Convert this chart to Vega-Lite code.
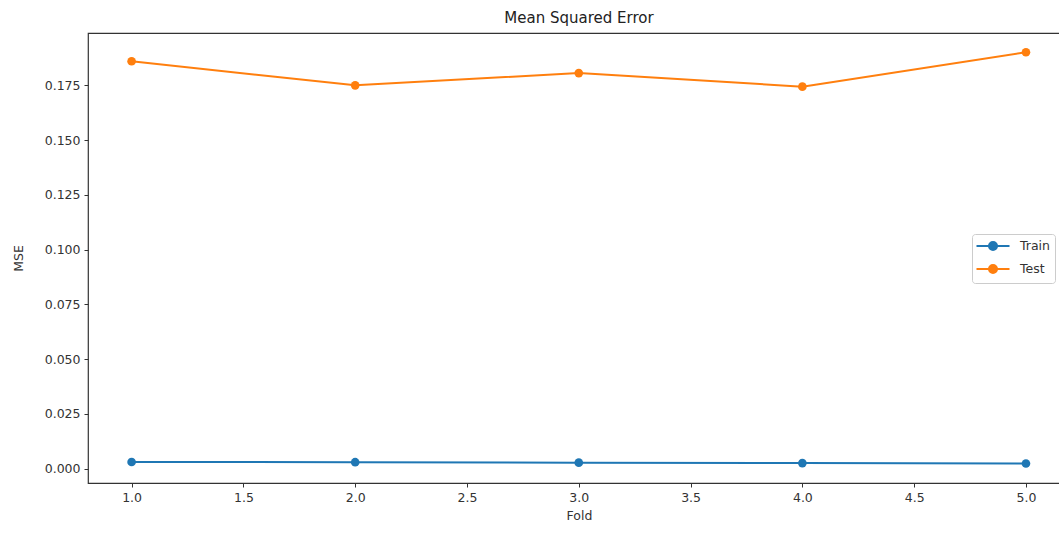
{
  "$schema": "https://vega.github.io/schema/vega-lite/v6.json",
  "autosize": {"type": "none"},
  "padding": {"left": 88, "top": 33, "right": 0, "bottom": 50},
  "width": 982,
  "height": 450,
  "background": "white",
  "title": {
    "text": "Mean Squared Error",
    "font": "DejaVu Sans",
    "fontSize": 15,
    "fontWeight": "normal",
    "color": "#222",
    "anchor": "middle",
    "offset": 7
  },
  "config": {
    "view": {"stroke": "#333", "strokeWidth": 1.2},
    "axis": {
      "domain": false,
      "grid": false,
      "ticks": true,
      "tickColor": "#333",
      "tickSize": 4,
      "labelFont": "DejaVu Sans",
      "labelFontSize": 12.5,
      "labelColor": "#333",
      "titleFont": "DejaVu Sans",
      "titleFontSize": 12.5,
      "titleFontWeight": "normal",
      "titleColor": "#333"
    }
  },
  "data": {
    "values": [
      {"fold": 1, "split": "Train", "mse": 0.0030},
      {"fold": 2, "split": "Train", "mse": 0.0029},
      {"fold": 3, "split": "Train", "mse": 0.0027},
      {"fold": 4, "split": "Train", "mse": 0.0025},
      {"fold": 5, "split": "Train", "mse": 0.0023},
      {"fold": 1, "split": "Test", "mse": 0.1860},
      {"fold": 2, "split": "Test", "mse": 0.1750},
      {"fold": 3, "split": "Test", "mse": 0.1806},
      {"fold": 4, "split": "Test", "mse": 0.1744},
      {"fold": 5, "split": "Test", "mse": 0.1901}
    ]
  },
  "mark": {"type": "line", "strokeWidth": 2, "point": {"filled": true, "size": 75, "opacity": 1}},
  "encoding": {
    "x": {
      "field": "fold",
      "type": "quantitative",
      "title": "Fold",
      "scale": {"domain": [0.805, 5.197], "nice": false, "zero": false},
      "axis": {"values": [1, 1.5, 2, 2.5, 3, 3.5, 4, 4.5, 5], "format": ".1f", "labelPadding": 4, "titlePadding": 6}
    },
    "y": {
      "field": "mse",
      "type": "quantitative",
      "title": "MSE",
      "scale": {"domain": [-0.0066, 0.1989], "nice": false, "zero": false},
      "axis": {"values": [0, 0.025, 0.05, 0.075, 0.1, 0.125, 0.15, 0.175], "format": ".3f", "labelPadding": 4, "titlePadding": 19}
    },
    "color": {
      "field": "split",
      "type": "nominal",
      "sort": ["Train", "Test"],
      "scale": {"domain": ["Train", "Test"], "range": ["#1f77b4", "#ff7f0e"]},
      "legend": {
        "title": null,
        "orient": "none",
        "legendX": 884,
        "legendY": 201,
        "symbolType": "M-2.75,0H2.75M0.67,0A0.67,0.67 0 1,1 -0.67,0A0.67,0.67 0 1,1 0.67,0Z",
        "symbolSize": 144,
        "symbolOffset": 9,
        "symbolStrokeWidth": 2,
        "symbolFillColor": null,
        "labelFont": "DejaVu Sans",
        "labelFontSize": 12.5,
        "labelColor": "#333",
        "labelOffset": 20,
        "rowPadding": 5,
        "padding": 5,
        "strokeColor": "#ccc",
        "cornerRadius": 3,
        "fillColor": "white"
      }
    }
  }
}
